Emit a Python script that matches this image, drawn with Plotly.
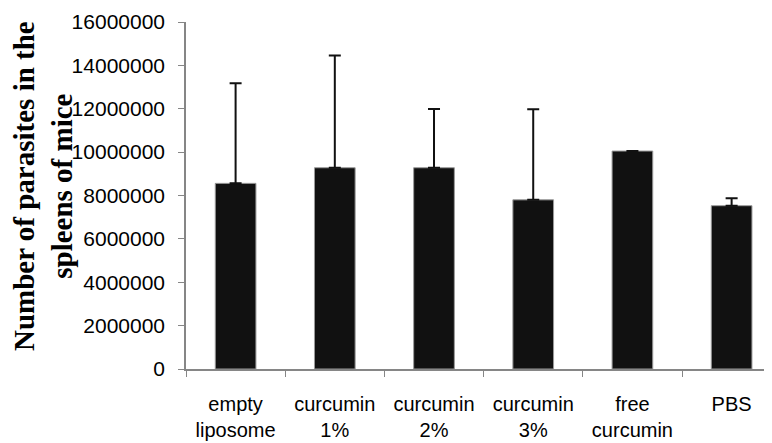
import plotly.graph_objects as go

categories = ["empty<br>liposome", "curcumin<br>1%", "curcumin<br>2%", "curcumin<br>3%", "free<br>curcumin", "PBS"]
values = [8560000, 9280000, 9280000, 7800000, 10050000, 7530000]
errors_plus = [4620000, 5170000, 2710000, 4180000, 0, 340000]
y_ticks = [0, 2000000, 4000000, 6000000, 8000000, 10000000, 12000000, 14000000, 16000000]

fig = go.Figure()
fig.add_trace(go.Bar(
    x=categories, y=values,
    marker=dict(color="#111111", line=dict(color="#9a9a9a", width=1)),
    width=0.41,
    error_y=dict(type="data", symmetric=False, array=errors_plus,
                 arrayminus=[0] * len(values), color="#111111", thickness=2, width=6),
))

L, T, PW, PH = 178, 14, 586, 347
fig.update_layout(
    width=764, height=435,
    margin=dict(l=L, r=0, t=T, b=435 - T - PH),
    paper_bgcolor="white", plot_bgcolor="white",
    showlegend=False,
    font=dict(family="Liberation Sans, Arial, sans-serif", size=20, color="#000000"),
    xaxis=dict(
        type="category", range=[-0.5, 5.407],
        tickson="boundaries", ticks="outside", ticklen=6, tickcolor="#868686", tickwidth=1,
        showline=True, linecolor="#868686", linewidth=1.5,
        showgrid=False, zeroline=False, ticklabelstandoff=16,
        tickfont=dict(size=20),
    ),
    yaxis=dict(
        range=[0, 16000000], tickvals=y_ticks, ticktext=[str(v) for v in y_ticks],
        ticks="outside", ticklen=6, tickcolor="#868686", tickwidth=1,
        showline=True, linecolor="#868686", linewidth=1.5,
        showgrid=False, zeroline=False, ticklabelstandoff=9,
        tickfont=dict(size=21),
    ),
    annotations=[dict(
        text="<b>Number of parasites in the<br>spleens of mice</b>",
        textangle=-90, xref="paper", yref="paper",
        x=(35 - L) / PW, y=1 - (178 - T) / PH,
        xanchor="center", yanchor="middle", showarrow=False,
        font=dict(family="Liberation Serif, Times New Roman, serif", size=29, color="#000000"),
    )],
)
fig.write_html("out.html")
